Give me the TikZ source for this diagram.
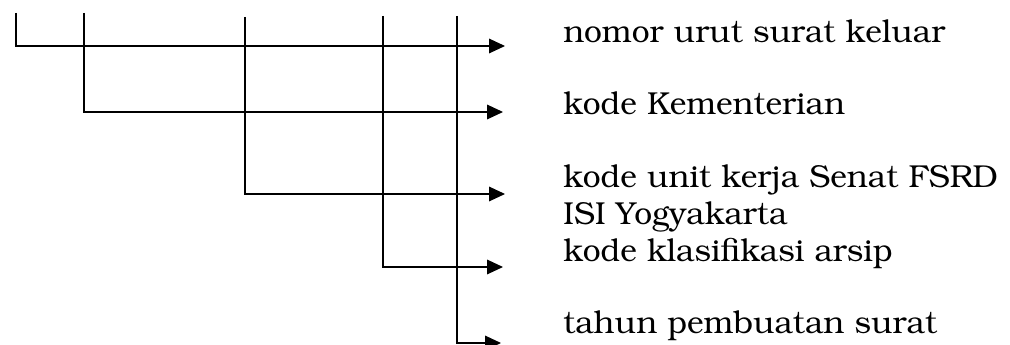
\documentclass[tikz,border=0pt]{standalone}
\usepackage[T1]{fontenc}
\usepackage{bookman}
\usetikzlibrary{arrows.meta}

\begin{document}
\begin{tikzpicture}[x=0.75pt,y=-0.75pt,
		lbl/.style={anchor=base west,inner sep=0pt,align=left,
			font=\fontsize{23.8}{27.75}\selectfont},
		link/.style={line width=0.9pt,-{Triangle[length=12pt,width=11pt]}}]
		\useasboundingbox (0,0) rectangle (1010,345);

		\node[lbl] (nomor) at (563,43) {nomor urut surat keluar};
		\node[lbl] (kemen) at (563,115) {kode Kementerian};
		\node[lbl] (unit)  at (563,225) {kode unit kerja Senat FSRD\\ISI Yogyakarta};
		\node[lbl] (klas)  at (563,262) {kode klasifikasi arsip};
		\node[lbl] (tahun) at (563,333) {tahun pembuatan surat};

		\coordinate (t1) at (16,13);
		\coordinate (t2) at (84,13);
		\coordinate (t3) at (245,17);
		\coordinate (t4) at (383,16);
		\coordinate (t5) at (457,16);

		\coordinate (e1) at (505,46);
		\coordinate (e2) at (503,112);
		\coordinate (e3) at (505,194);
		\coordinate (e4) at (503,267);
		\coordinate (e5) at (501,343);

		\draw[link] (t1) |- (e1);
		\draw[link] (t2) |- (e2);
		\draw[link] (t3) |- (e3);
		\draw[link] (t4) |- (e4);
		\draw[link] (t5) |- (e5);

\end{tikzpicture}
\end{document}
